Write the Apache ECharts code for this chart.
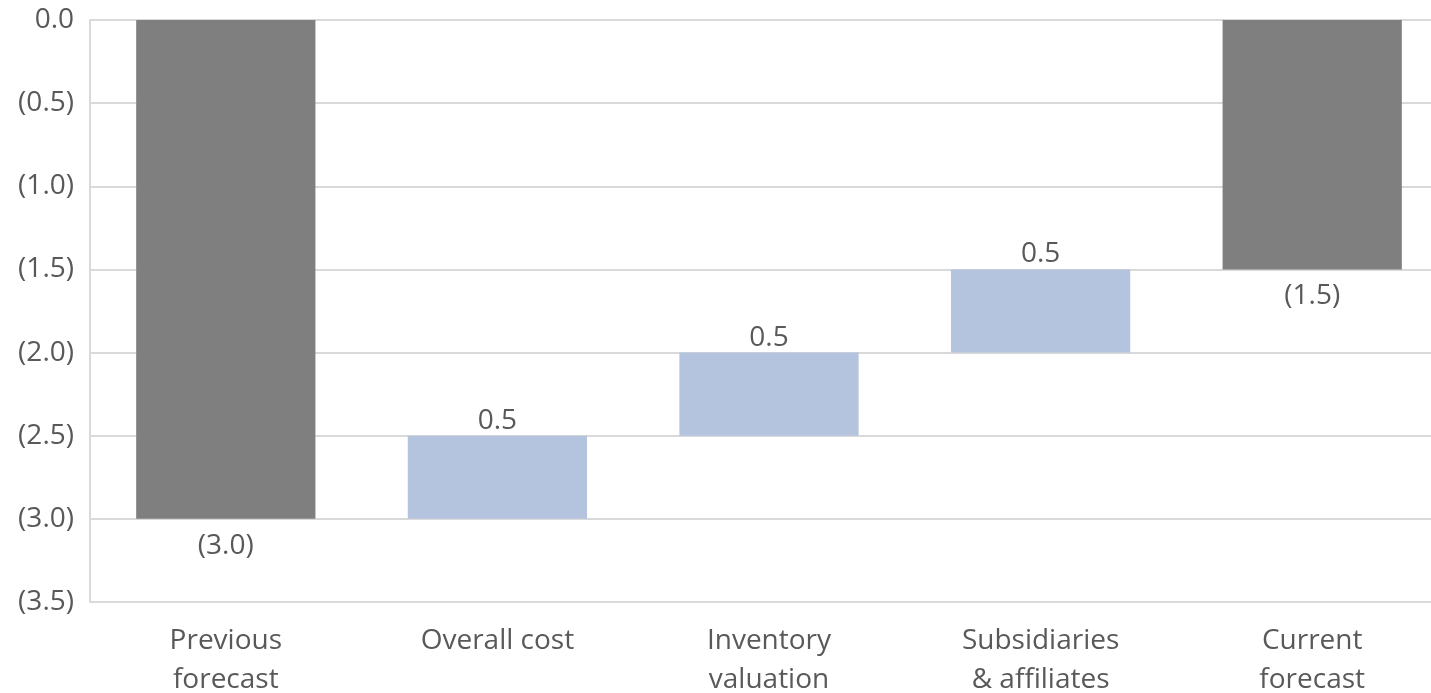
<!DOCTYPE html>
<html>
<head>
<meta charset="utf-8">
<script src="https://cdn.jsdelivr.net/npm/echarts@6/dist/echarts.min.js"></script>
<style>
  html, body { margin: 0; padding: 0; background: #fff; }
  #chart { width: 1431px; height: 693px; }
</style>
</head>
<body>
<div id="chart"></div>
<script>
// waterfall data: first and last are totals, the middle ones are changes
const categories = ['Previous\nforecast', 'Overall cost', 'Inventory\nvaluation', 'Subsidiaries\n& affiliates', 'Current\nforecast']
const totals = [-3.0, null, null, null, -1.5]
const changes = [null, 0.5, 0.5, 0.5, null]

const textColor = '#595959'
const fontFamily = '"Open Sans", sans-serif'
const fontSize = 28

function fmt(v) {
  if (v === 0) return '0.0'
  return v < 0 ? '(' + Math.abs(v).toFixed(1) + ')' : v.toFixed(1)
}

// build base (invisible) + visible parts
const baseData = []
const barData = []
let running = 0
for (let i = 0; i < categories.length; i++) {
  if (totals[i] !== null) {
    running = totals[i]
    baseData.push('-')
    barData.push({
      value: totals[i],
      itemStyle: { color: '#7f7f7f' },
      label: { position: 'bottom', distance: 13, formatter: fmt(totals[i]) }
    })
  } else {
    const end = running + changes[i]
    baseData.push(end)
    barData.push({
      value: -changes[i],
      itemStyle: { color: '#b4c3de' },
      label: { position: 'top', distance: 1, formatter: changes[i].toFixed(1) }
    })
    running = end
  }
}

const chart = echarts.init(document.getElementById('chart'))
chart.setOption({
  animation: false,
  grid: { left: 90, right: -17, top: 20, bottom: 91, containLabel: false, outerBoundsMode: 'none' },
  xAxis: {
    type: 'category',
    data: categories,
    position: 'bottom',
    axisLine: { show: false },
    axisTick: { show: false },
    axisLabel: { color: textColor, fontSize: fontSize, fontFamily: fontFamily, margin: 20, lineHeight: 39, interval: 0 }
  },
  yAxis: {
    type: 'value',
    min: -3.5,
    max: 0,
    interval: 0.5,
    axisLine: { show: true, lineStyle: { color: '#d9d9d9', width: 2 } },
    axisTick: { show: false },
    splitLine: { lineStyle: { color: '#d9d9d9', width: 2 } },
    axisLabel: { color: textColor, fontSize: fontSize, fontFamily: fontFamily, margin: 16, formatter: fmt }
  },
  series: [
    {
      type: 'bar',
      stack: 'wf',
      data: baseData,
      barWidth: '66%',
      itemStyle: { color: 'transparent' },
      silent: true
    },
    {
      type: 'bar',
      stack: 'wf',
      data: barData,
      barWidth: '66%',
      label: { show: true, color: textColor, fontSize: fontSize, fontFamily: fontFamily }
    }
  ]
})
</script>
</body>
</html>
